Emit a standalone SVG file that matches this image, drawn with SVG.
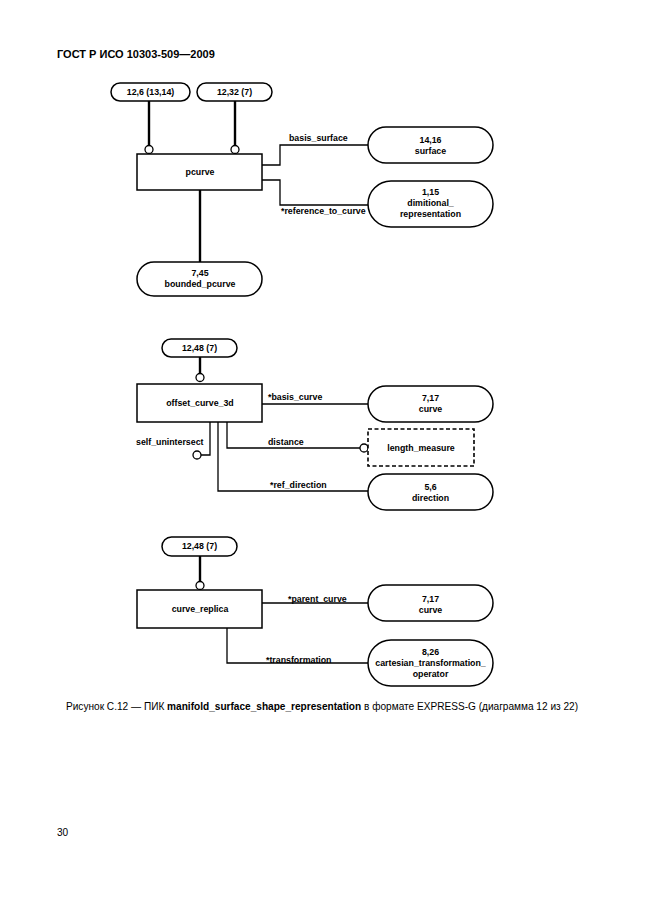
<svg xmlns="http://www.w3.org/2000/svg" width="646" height="913" viewBox="0 0 646 913">
<style>
.bg{fill:#fff}
.ent{fill:#fff;stroke:#000;stroke-width:1.5}
.pill{fill:#fff;stroke:#000;stroke-width:1.5}
.dash{fill:#fff;stroke:#000;stroke-width:1.6;stroke-dasharray:4,2.5}
.ln{fill:none;stroke:#000;stroke-width:1.3}
.thk{fill:none;stroke:#000;stroke-width:2.4}
.circ{fill:#fff;stroke:#000;stroke-width:1.3}
.t{font-family:"Liberation Sans",Arial,sans-serif;font-size:8.8px;font-weight:bold;fill:#000;text-anchor:middle}
.lab{font-family:"Liberation Sans",Arial,sans-serif;font-size:8.8px;font-weight:bold;fill:#000}
.hdr{font-family:"Liberation Sans",Arial,sans-serif;font-size:11px;font-weight:bold;fill:#000}
.cap{font-family:"Liberation Sans",Arial,sans-serif;font-size:10.1px;fill:#000}
</style>
<rect class="bg" x="0" y="0" width="646" height="913"/>
<text class="hdr" x="57" y="58">ГОСТ Р ИСО 10303-509—2009</text>

<g id="connectors">
  <path class="thk" d="M149,101 V145"/>
  <path class="thk" d="M235,101 V145"/>
  <path class="ln" d="M262,165 H280 V145 H368"/>
  <path class="ln" d="M262,180 H280 V205 H368"/>
  <path class="thk" d="M200,190 V262"/>
  <path class="thk" d="M200,357 V373"/>
  <path class="ln" d="M262,404 H368"/>
  <path class="ln" d="M210,422 V455 H201"/>
  <path class="ln" d="M227,422 V448 H360"/>
  <path class="ln" d="M218,422 V491 H368"/>
  <path class="thk" d="M200,556 V581"/>
  <path class="ln" d="M262,603 H368"/>
  <path class="ln" d="M227,628 V663 H368"/>
  <text class="lab" x="289" y="141">basis_surface</text>
  <text class="lab" x="281" y="214">*reference_to_curve</text>
  <text class="lab" x="268" y="400">*basis_curve</text>
  <text class="lab" x="136" y="445">self_unintersect</text>
  <text class="lab" x="268" y="445">distance</text>
  <text class="lab" x="270" y="488">*ref_direction</text>
  <text class="lab" x="288" y="602">*parent_curve</text>
  <text class="lab" x="266" y="663">*transformation</text>
</g>

<g id="n_12_6"><rect class="pill" x="111" y="83" width="79" height="18" rx="9"/><text class="t" x="150.5" y="95">12,6 (13,14)</text></g>
<g id="n_12_32"><rect class="pill" x="197" y="83" width="75" height="18" rx="9"/><text class="t" x="234.5" y="95">12,32 (7)</text></g>
<g id="c1"><circle class="circ" cx="149" cy="149.5" r="4"/></g>
<g id="c2"><circle class="circ" cx="235" cy="149.5" r="4"/></g>
<g id="pcurve"><rect class="ent" x="137" y="154" width="125" height="36"/><text class="t" x="200" y="175">pcurve</text></g>
<g id="surface"><rect class="pill" x="368" y="127" width="125" height="36" rx="18"/><text class="t" x="430.5" y="143">14,16</text><text class="t" x="430.5" y="154">surface</text></g>
<g id="dim_rep"><rect class="pill" x="368" y="181" width="125" height="46" rx="23"/><text class="t" x="430.5" y="195">1,15</text><text class="t" x="430.5" y="206">dimitional_</text><text class="t" x="430.5" y="217">representation</text></g>
<g id="bounded_pcurve"><rect class="pill" x="137" y="262" width="125" height="34" rx="17"/><text class="t" x="200" y="276">7,45</text><text class="t" x="200" y="287">bounded_pcurve</text></g>

<g id="n_12_48a"><rect class="pill" x="162" y="339" width="75" height="18" rx="9"/><text class="t" x="199.5" y="351">12,48 (7)</text></g>
<g id="c3"><circle class="circ" cx="200" cy="377.5" r="4"/></g>
<g id="offset_curve_3d"><rect class="ent" x="137" y="384" width="125" height="38"/><text class="t" x="200" y="406">offset_curve_3d</text></g>
<g id="curve_a"><rect class="pill" x="368" y="386" width="125" height="36" rx="18"/><text class="t" x="430.5" y="401">7,17</text><text class="t" x="430.5" y="412">curve</text></g>
<g id="c4"><circle class="circ" cx="197" cy="455" r="4"/></g>
<g id="c5"><circle class="circ" cx="364" cy="448" r="4"/></g>
<g id="length_measure"><rect class="dash" x="368" y="429" width="106" height="37"/><text class="t" x="421" y="451">length_measure</text></g>
<g id="direction"><rect class="pill" x="368" y="474" width="125" height="36" rx="18"/><text class="t" x="430.5" y="490">5,6</text><text class="t" x="430.5" y="501">direction</text></g>

<g id="n_12_48b"><rect class="pill" x="162" y="537" width="75" height="19" rx="9.5"/><text class="t" x="199.5" y="549">12,48 (7)</text></g>
<g id="c6"><circle class="circ" cx="200" cy="585.5" r="4"/></g>
<g id="curve_replica"><rect class="ent" x="137" y="590" width="125" height="38"/><text class="t" x="200" y="612">curve_replica</text></g>
<g id="curve_b"><rect class="pill" x="368" y="585" width="125" height="36" rx="18"/><text class="t" x="430.5" y="602">7,17</text><text class="t" x="430.5" y="613">curve</text></g>
<g id="cto"><rect class="pill" x="368" y="640" width="125" height="46" rx="23"/><text class="t" x="430.5" y="655">8,26</text><text class="t" x="430.5" y="666">cartesian_transformation_</text><text class="t" x="430.5" y="677">operator</text></g>

<text class="cap" x="66" y="710">Рисунок С.12 — ПИК <tspan font-weight="bold">manifold_surface_shape_representation</tspan> в формате EXPRESS-G (диаграмма 12 из 22)</text>
<text class="cap" x="57" y="836" font-size="10px">30</text>
</svg>
